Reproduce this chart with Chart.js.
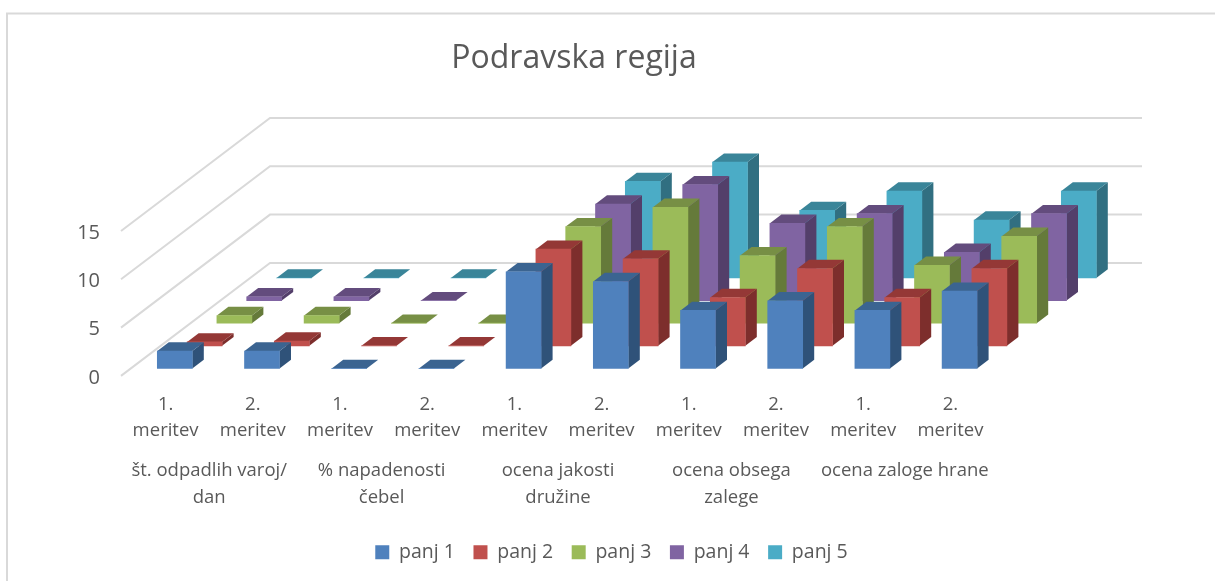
<!DOCTYPE html>
<html><head><meta charset="utf-8">
<style>html,body{margin:0;padding:0;background:#fff}canvas{display:block}</style>
<script src="https://cdn.jsdelivr.net/npm/chart.js@4/dist/chart.umd.js"></script>
</head><body><canvas id="c" width="1215" height="581"></canvas>
<script>
const titleText = 'Podravska regija';
const measureLabels = [['1.','meritev'],['2.','meritev'],['1.','meritev'],['2.','meritev'],['1.','meritev'],['2.','meritev'],['1.','meritev'],['2.','meritev'],['1.','meritev'],['2.','meritev']];
const groupLabels = [['št. odpadlih varoj/','dan'],['% napadenosti','čebel'],['ocena jakosti','družine'],['ocena obsega','zalege'],['ocena zaloge hrane']];
const yTicks = [0,5,10,15];
const seriesNames = ['panj 1','panj 2','panj 3','panj 4','panj 5'];
const panj1 = [1.8,1.8,0,0,10,9,6,7,6,8];
const panj2 = [0.4,0.5,0,0,10,9,5,8,5,8];
const panj3 = [0.8,0.8,0,0,10,12,7,10,6,9];
const panj4 = [0.4,0.4,0,0,10,12,8,9,5,9];
const panj5 = [0,0,0,0,10,12,7,9,6,9];
const seriesValues = [panj1,panj2,panj3,panj4,panj5];
const frontColors = ['#4f81bd','#c0504d','#9bbb59','#8064a2','#4bacc6'];
const topColors   = ['#3b6491','#943836','#778f45','#634c7d','#3a8599'];
const sideColors  = ['#2f5279','#7d2e2c','#657a3a','#533f6a','#316f81'];
const textColor = '#595959', gridColor = '#d9d9d9';
const FONT = '"Open Sans", sans-serif';

// oblique projection
const START = {x:6.2, y:-6.5}, STEP = {x:29.8, y:-22.6}, BAR = {x:11.5, y:-8.7}, WALL = {x:145, y:-112}, WALL_FRONT = {x:-4, y:1};
const groupNudge = [-3,-5,-3,-4,-5];
const measureNudge = -3;
const yLabelNudge = 3;

const poly = (ctx, pts, color) => {
  ctx.fillStyle = color; ctx.beginPath();
  pts.forEach((p,i)=> i ? ctx.lineTo(p[0],p[1]) : ctx.moveTo(p[0],p[1]));
  ctx.closePath(); ctx.fill();
};

const oblique = {
  id:'oblique',
  afterLayout(chart){
    const t = chart.titleBlock, l = chart.legend;
    t.left += 75.5; t.right += 75.5;
    l.left += 113; l.right += 113;
  },
  beforeDraw(chart){
    const {ctx} = chart;
    ctx.save(); ctx.strokeStyle = gridColor; ctx.lineWidth = 2;
    ctx.beginPath(); ctx.moveTo(7,581); ctx.lineTo(7,13.5); ctx.lineTo(1215,13.5); ctx.stroke();
    ctx.restore();
  },
  beforeDatasetsDraw(chart){
    const {ctx, scales:{x,y}} = chart;
    ctx.save(); ctx.strokeStyle = gridColor; ctx.lineWidth = 2;
    yTicks.forEach(v=>{
      const py = y.getPixelForValue(v);
      ctx.beginPath();
      ctx.moveTo(x.left+WALL_FRONT.x, py+WALL_FRONT.y);
      ctx.lineTo(x.left+WALL.x, py+WALL.y);
      ctx.lineTo(x.right+WALL.x, py+WALL.y);
      ctx.stroke();
    });
    ctx.restore();
  },
  beforeDatasetDraw(chart, args){
    const {ctx} = chart, i = args.index, meta = args.meta;
    ctx.save();
    ctx.translate(START.x+STEP.x*i, START.y+STEP.y*i);
    meta.data.forEach(el=>{
      const l = el.x-el.width/2, r = el.x+el.width/2, t = el.y, b = el.base;
      poly(ctx, [[r,t],[r+BAR.x,t+BAR.y],[r+BAR.x,b+BAR.y],[r,b]], sideColors[i]);
      poly(ctx, [[l,t],[l+BAR.x,t+BAR.y],[r+BAR.x,t+BAR.y],[r,t]], topColors[i]);
    });
  },
  afterDatasetDraw(chart){ chart.ctx.restore(); }
};

new Chart(document.getElementById('c'),{
  type:'bar',
  data:{
    labels: measureLabels,
    datasets: seriesNames.map((n,i)=>({
      label:n, data:seriesValues[i], backgroundColor:frontColors[i], borderWidth:0,
      grouped:false, barThickness:35, clip:false, xAxisID:'x', yAxisID:'y'
    }))
  },
  options:{
    responsive:false, animation:false, events:[],
    layout:{padding:{left:0,right:218,top:0,bottom:9}},
    scales:{
      x:{type:'category', weight:0, offset:true, grid:{display:false,drawTicks:false}, border:{display:false},
        ticks:{autoSkip:false,maxRotation:0,minRotation:0,padding:17,color:textColor,font:{family:FONT,size:18.5,lineHeight:1.41}},
        beforeUpdate(s){
          const proto = Object.getPrototypeOf(s).getPixelForTick;
          s.getPixelForTick = function(i){ return proto.call(this,i)+measureNudge; };
        },
        afterFit(s){s.height=77;}},
      x2:{type:'category', weight:1, position:'bottom', labels:groupLabels, offset:true, grid:{display:false,drawTicks:false}, border:{display:false},
        ticks:{autoSkip:false,maxRotation:0,minRotation:0,padding:5,color:textColor,font:{family:FONT,size:18.5,lineHeight:1.46}},
        beforeUpdate(s){
          const proto = Object.getPrototypeOf(s).getPixelForTick;
          s.getPixelForTick = function(i){ return proto.call(this,i)+groupNudge[i]; };
        },
        afterFit(s){s.height=72;}},
      y:{min:0,max:15,grid:{display:false,drawTicks:false},border:{display:false},
        beforeUpdate(s){
          const proto = Object.getPrototypeOf(s).getPixelForTick;
          s.getPixelForTick = function(i){ return proto.call(this,i)+yLabelNudge; };
        },
        afterBuildTicks(s){ s.ticks = yTicks.map(v=>({value:v})); },
        ticks:{padding:25,color:textColor,font:{family:FONT,size:20}},
        afterFit(s){s.width=125;}}
    },
    plugins:{
      tooltip:{enabled:false},
      title:{display:true,text:titleText,color:textColor,font:{family:FONT,size:32,weight:'normal',lineHeight:1.2},padding:{top:40,bottom:151.6}},
      legend:{position:'bottom',labels:{boxWidth:14,boxHeight:14,padding:18.6,color:textColor,font:{family:FONT,size:19.5}}}
    }
  },
  plugins:[oblique]
});
</script></body></html>
